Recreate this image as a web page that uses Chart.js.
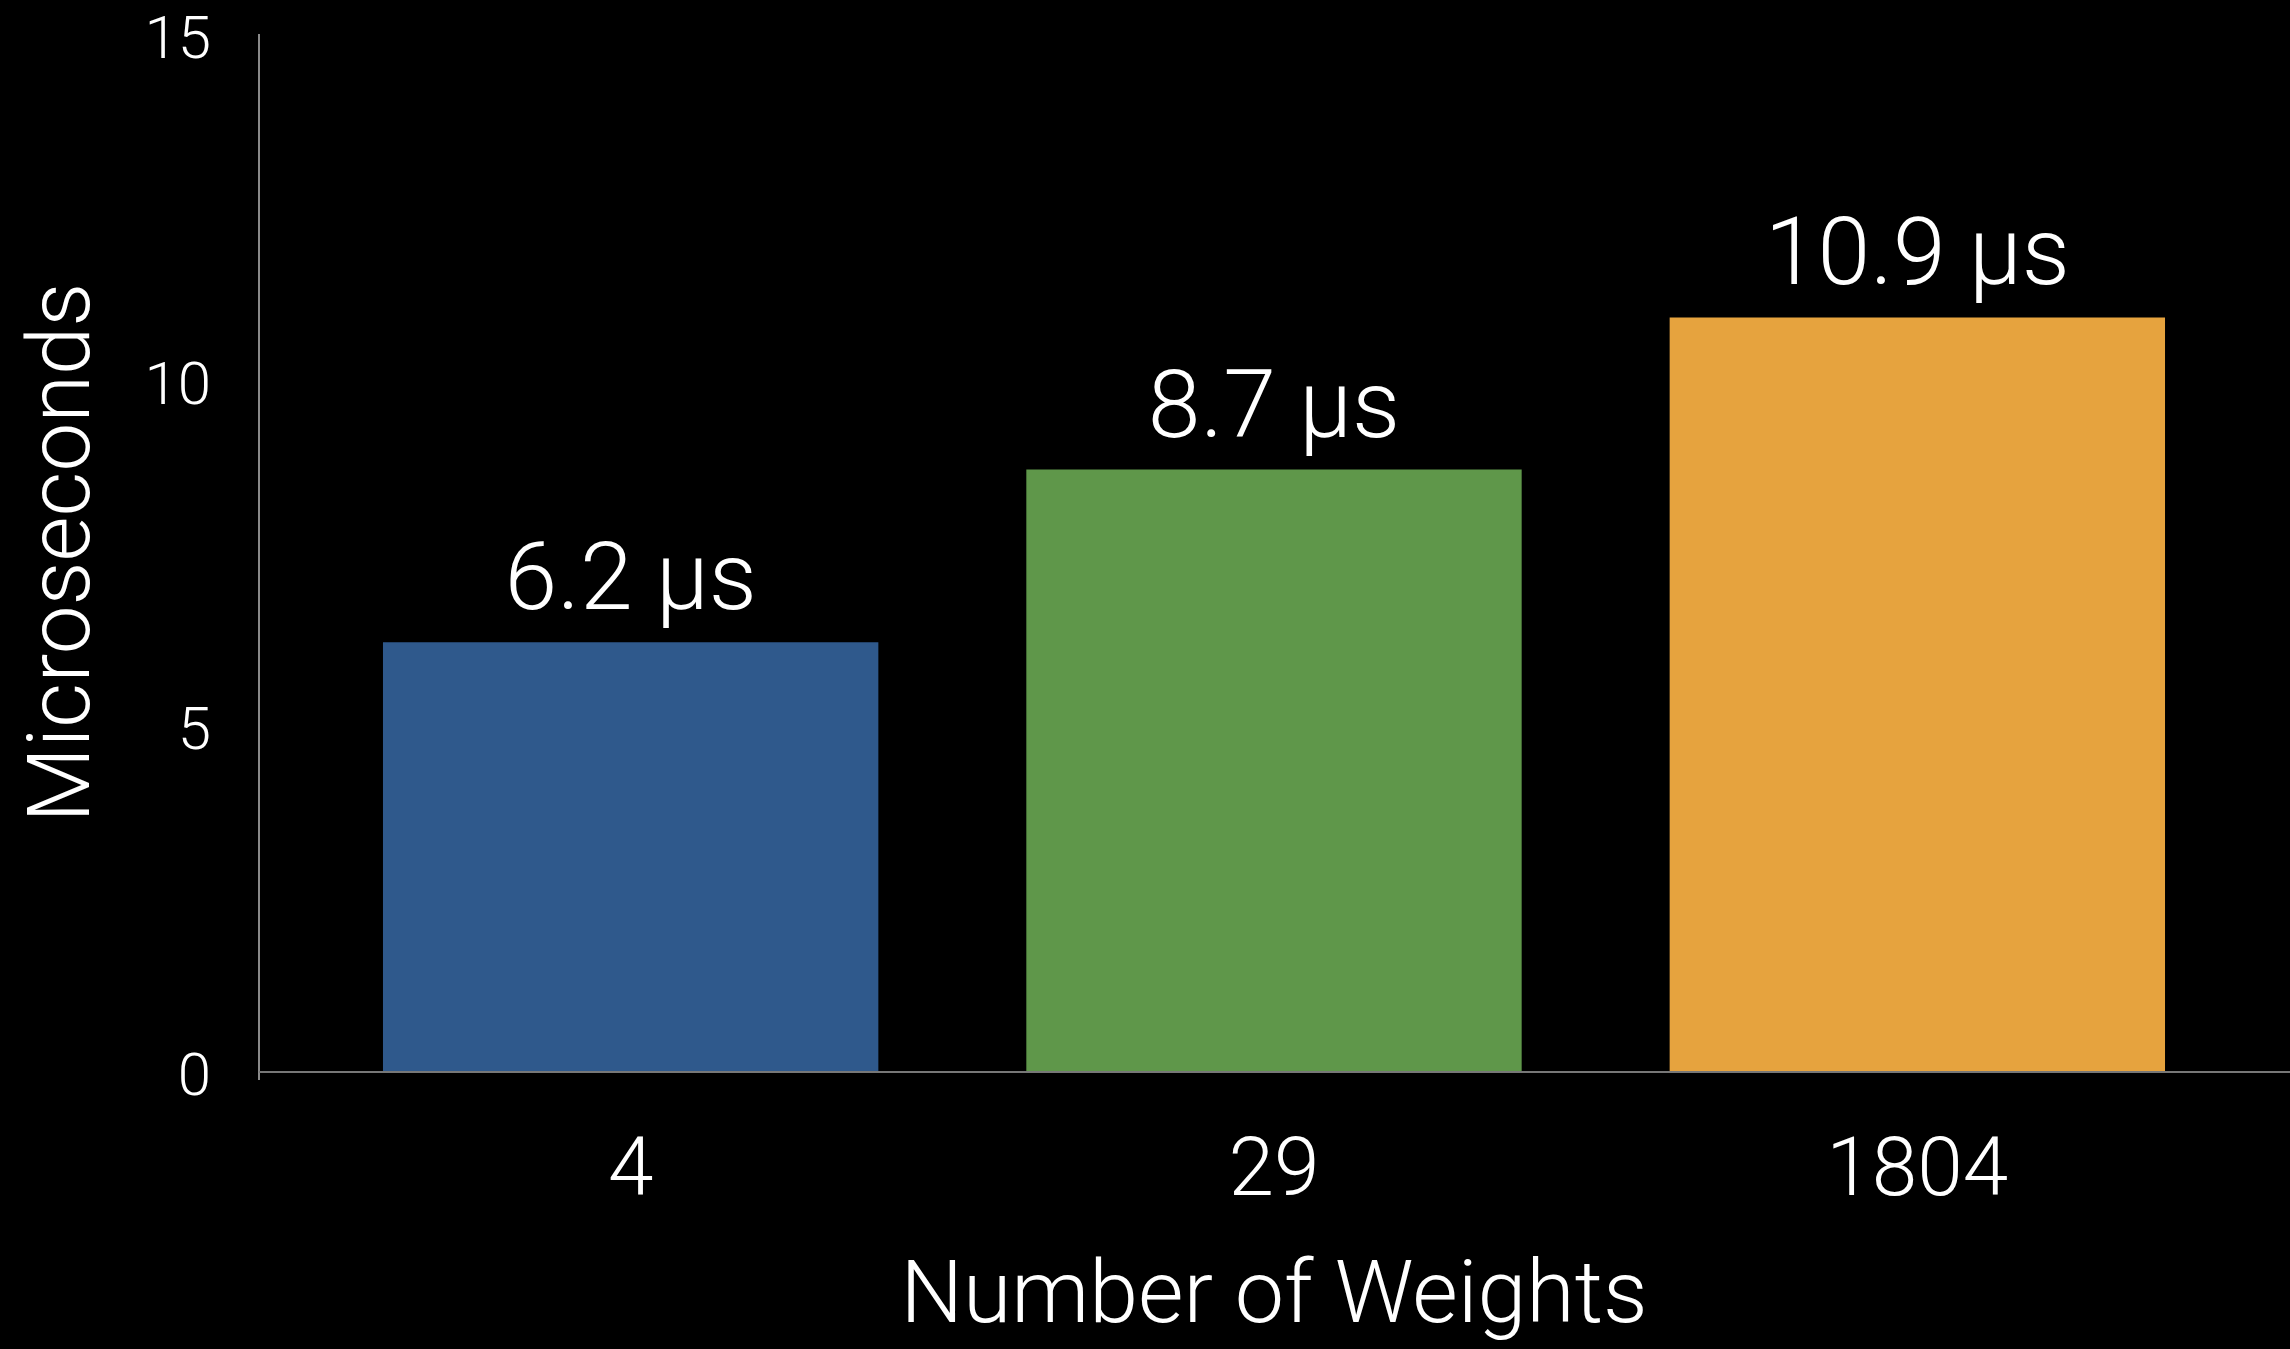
<!DOCTYPE html>
<html>
<head>
<meta charset="utf-8">
<title>Microseconds by number of weights</title>
<script src="https://cdn.jsdelivr.net/npm/chart.js@4/dist/chart.umd.min.js"></script>
<style>
	html, body { margin:0; padding:0; background:#000; }
	#wrap { width:2290px; height:1349px; position:relative; }
</style>
</head>
<body>
<div id="wrap"><canvas id="barChart"></canvas></div>
<script>
// data
var categories = ['4', '29', '1804'];
var microseconds = [6.2, 8.7, 10.9];
var valueLabels = ['6.2 µs', '8.7 µs', '10.9 µs'];
var barColors = ['#2f598c', '#5f974a', '#e6a33e'];
var yMin = 0, yMax = 15, yStep = 5;

var fontFamily = "'Roboto', 'Lato', 'Liberation Sans', sans-serif";

// axis lines sit a little apart from the plot, like the original slide
var axisLines = {
	id: 'axisLines',
	beforeDatasetsDraw: function(chart){
		var ctx = chart.ctx;
		var y = chart.scales.y;
		var zeroY = y.getPixelForValue(yMin);
		var topY = y.getPixelForValue(yMax);
		var axisX = chart.chartArea.left - 50;
		ctx.save();
		ctx.lineWidth = 2;
		ctx.strokeStyle = '#8a8a8a';
		ctx.beginPath();
		ctx.moveTo(axisX, topY);
		ctx.lineTo(axisX, zeroY + 9);
		ctx.stroke();
		ctx.strokeStyle = '#777';
		ctx.beginPath();
		ctx.moveTo(axisX, zeroY + 1);
		ctx.lineTo(chart.width, zeroY + 1);
		ctx.stroke();
		ctx.restore();
	}
};

// "6.2 µs" labels above every bar
var barLabels = {
	id: 'barLabels',
	afterDatasetsDraw: function(chart){
		var ctx = chart.ctx;
		var meta = chart.getDatasetMeta(0);
		ctx.save();
		ctx.fillStyle = '#fff';
		ctx.font = '300 95px ' + fontFamily;
		ctx.textAlign = 'center';
		ctx.textBaseline = 'alphabetic';
		for(var i=0;i<meta.data.length;i++){
			var bar = meta.data[i];
			ctx.fillText(valueLabels[i], bar.x, bar.y - 33);
		}
		ctx.restore();
	}
};

var ctx = document.getElementById('barChart').getContext('2d');
var barChart = new Chart(ctx, {
	type: 'bar',
	data: {
		labels: categories,
		datasets: [{
			data: microseconds,
			backgroundColor: barColors,
			borderWidth: 0,
			barPercentage: 0.77,
			categoryPercentage: 1.0
		}]
	},
	options: {
		responsive: true,
		maintainAspectRatio: false,
		animation: false,
		layout: { padding: { top: 34, right: 51, left: 0, bottom: 0 } },
		plugins: {
			legend: { display: false },
			tooltip: { enabled: false }
		},
		scales: {
			x: {
				grid: { display: false, drawTicks: false },
				border: { display: false },
				ticks: {
					color: '#fff',
					padding: 54,
					font: { family: fontFamily, size: 82, weight: '300' }
				},
				title: {
					display: true,
					text: 'Number of Weights',
					color: '#fff',
					padding: { top: 0, bottom: 5 },
					font: { family: fontFamily, size: 88, weight: '300', lineHeight: 1 }
				},
				afterFit: function(scale){ scale.height = 278; }
			},
			y: {
				min: yMin,
				max: yMax,
				grid: { display: false, drawTicks: false },
				border: { display: false },
				ticks: {
					stepSize: yStep,
					color: '#fff',
					padding: 98,
					// empty first line nudges the number a few px down, as in the slide
					callback: function(value){ return ['', String(value)]; },
					font: { family: fontFamily, size: 60, weight: '300', lineHeight: '18px' }
				},
				title: {
					display: true,
					text: 'Microseconds',
					color: '#fff',
					padding: { top: 15, bottom: 0 },
					font: { family: fontFamily, size: 87, weight: '300' }
				},
				// tick padding would otherwise push the plot top down
				afterFit: function(scale){
					scale.width = 309;
					scale.paddingTop = 0;
					scale.paddingBottom = 0;
				}
			}
		}
	},
	plugins: [axisLines, barLabels]
});
</script>
</body>
</html>
